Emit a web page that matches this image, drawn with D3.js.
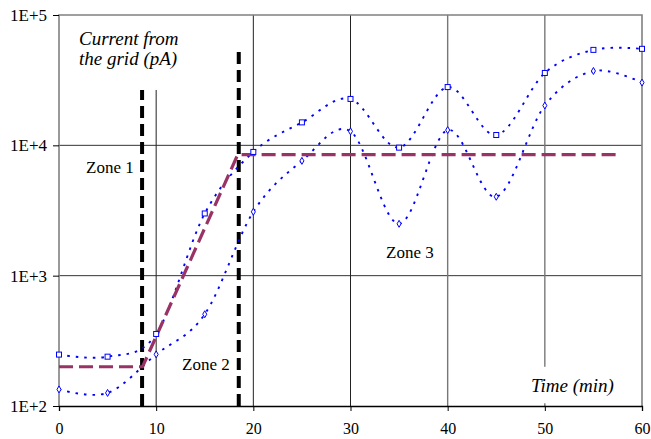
<!DOCTYPE html>
<html>
<head>
<meta charset="utf-8">
<script src="https://cdn.jsdelivr.net/npm/d3@7"></script>
<style>
  body { margin: 0; background: #fff; }
</style>
</head>
<body>
<div id="chart"></div>
<script>
// données
const time = [0, 5, 10, 15, 20, 25, 30, 35, 40, 45, 50, 55, 60];
const currentUpper = [248, 239, 357, 3000, 8900, 15000, 22700, 9600, 28000, 12000, 35900, 54000, 55000];
const currentLower = [134, 126, 249, 506, 3090, 7600, 12800, 2500, 13100, 4030, 20200, 37200, 30300];

// modèle (tirets violets)
const modelTime = [0, 8.6, 18.4, 57.7];
const modelCurrent = [200, 200, 8500, 8500];

// limites des zones (tirets noirs)
const zoneTime = [8.55, 18.5];
const zoneTop = [26600, 55900];

const xTicks = [0, 10, 20, 30, 40, 50, 60];
const yTicks = [1e2, 1e3, 1e4, 1e5];
const yTickLabels = ["1E+2", "1E+3", "1E+4", "1E+5"];

const FONT = '"Liberation Serif"';
const width = 651, height = 439;
const margin = { top: 15, right: 9, bottom: 33, left: 59 };

const svg = d3.select('#chart')
    .append('svg')
    .attr('width', width)
    .attr('height', height)
    .style('font-family', FONT);

const x = d3.scaleLinear()
    .domain([0, 60])
    .range([margin.left, width - margin.right]);

const y = d3.scaleLog()
    .domain([1e2, 1e5])
    .range([height - margin.bottom, margin.top]);

// grille horizontale
svg.append('g')
    .selectAll('line')
    .data([1e3, 1e4])
    .enter().append('line')
    .attr('x1', x(0)).attr('x2', x(60))
    .attr('y1', d => y(d)).attr('y2', d => y(d))
    .attr('stroke', '#333').attr('stroke-width', 1);

// grille verticale (avec les coupures de la figure)
const vGrid = [
    { t: 10, from: 1e2, to: 26600 },
    { t: 20, from: 1e2, to: 1e5 },
    { t: 30, from: 1e2, to: 1e5 },
    { t: 40, from: 1e2, to: 1e5 },
    { t: 50, from: 200, to: 1e5 },
    { t: 50, from: 1e2, to: 105 }
];
svg.append('g')
    .selectAll('line')
    .data(vGrid)
    .enter().append('line')
    .attr('x1', d => x(d.t)).attr('x2', d => x(d.t))
    .attr('y1', d => y(d.from)).attr('y2', d => y(d.to))
    .attr('stroke', d => d.t >= 40 ? '#777' : '#222')
    .attr('stroke-width', d => d.t >= 40 ? 1.4 : 1);

// cadre : haut, gauche, droite en gris
svg.append('path')
    .attr('d', `M${x(0)},${y(1e2)}V${y(1e5)}H${x(60)}V${y(1e2)}`)
    .attr('fill', 'none')
    .attr('stroke', '#808080')
    .attr('stroke-width', 1.6);

// axe des x
const xAxis = d3.axisBottom(x)
    .tickValues(xTicks)
    .tickSize(5)
    .tickPadding(12);

const gx = svg.append('g')
    .attr('transform', `translate(0, ${y(1e2)})`)
    .call(xAxis)
    .attr('font-family', FONT)
    .attr('font-size', 16);
gx.select('.domain').attr('stroke', '#000').attr('stroke-width', 1.3);
gx.selectAll('.tick line').attr('stroke', '#000');
gx.selectAll('.tick text').attr('fill', '#000');

// axe des y
const yAxis = d3.axisLeft(y)
    .tickValues(yTicks)
    .tickFormat((d, i) => yTickLabels[i])
    .tickSize(6)
    .tickPadding(6);

const gy = svg.append('g')
    .attr('transform', `translate(${x(0)}, 0)`)
    .call(yAxis)
    .attr('font-family', FONT)
    .attr('font-size', 17);
gy.select('.domain').remove();
gy.selectAll('.tick line').attr('stroke', '#000');
gy.selectAll('.tick text').attr('fill', '#000');

// limites des zones
svg.append('g')
    .selectAll('line')
    .data(zoneTime)
    .enter().append('line')
    .attr('x1', d => x(d)).attr('x2', d => x(d))
    .attr('y1', y(1e2)).attr('y2', (d, i) => y(zoneTop[i]))
    .attr('stroke', '#000')
    .attr('stroke-width', 4)
    .attr('stroke-dasharray', '12,6');

// courbes mesurées
const smooth = d3.line()
    .x(d => x(d[0]))
    .y(d => y(d[1]))
    .curve(d3.curveCardinal.tension(0));

[currentUpper, currentLower].forEach(serie => {
    svg.append('path')
        .datum(time.map((t, i) => [t, serie[i]]))
        .attr('d', smooth)
        .attr('fill', 'none')
        .attr('stroke', '#0000ff')
        .attr('stroke-width', 1.9)
        .attr('stroke-dasharray', '2.5,6');
});

// modèle
svg.append('path')
    .datum(modelTime.map((t, i) => [t, modelCurrent[i]]))
    .attr('d', d3.line().x(d => x(d[0])).y(d => y(d[1])))
    .attr('fill', 'none')
    .attr('stroke', '#993366')
    .attr('stroke-width', 3.2)
    .attr('stroke-dasharray', '14,6');

// marqueurs
svg.append('g')
    .selectAll('rect')
    .data(time)
    .enter().append('rect')
    .attr('x', d => x(d) - 2.5)
    .attr('y', (d, i) => y(currentUpper[i]) - 2.5)
    .attr('width', 5).attr('height', 5)
    .attr('fill', '#fff')
    .attr('stroke', '#0000ff')
    .attr('stroke-width', 1);

svg.append('g')
    .selectAll('path')
    .data(time)
    .enter().append('path')
    .attr('d', d3.symbol().type(d3.symbolDiamond).size(14))
    .attr('transform', (d, i) => `translate(${x(d)}, ${y(currentLower[i])})`)
    .attr('fill', '#fff')
    .attr('stroke', '#0000ff')
    .attr('stroke-width', 1);

// textes
const notes = [
    { text: 'Current from', px: 79, py: 45, italic: true },
    { text: 'the grid (pA)', px: 79, py: 65, italic: true },
    { text: 'Time (min)', px: 531, py: 392, italic: true },
    { text: 'Zone 1', px: 86, py: 173, italic: false },
    { text: 'Zone 2', px: 182, py: 370, italic: false },
    { text: 'Zone 3', px: 386, py: 258, italic: false }
];
svg.append('g')
    .selectAll('text')
    .data(notes)
    .enter().append('text')
    .attr('x', d => d.px)
    .attr('y', d => d.py)
    .style('font-family', FONT)
    .style('font-size', d => d.italic ? '19px' : '17px')
    .style('font-style', d => d.italic ? 'italic' : 'normal')
    .text(d => d.text);
</script>
</body>
</html>
